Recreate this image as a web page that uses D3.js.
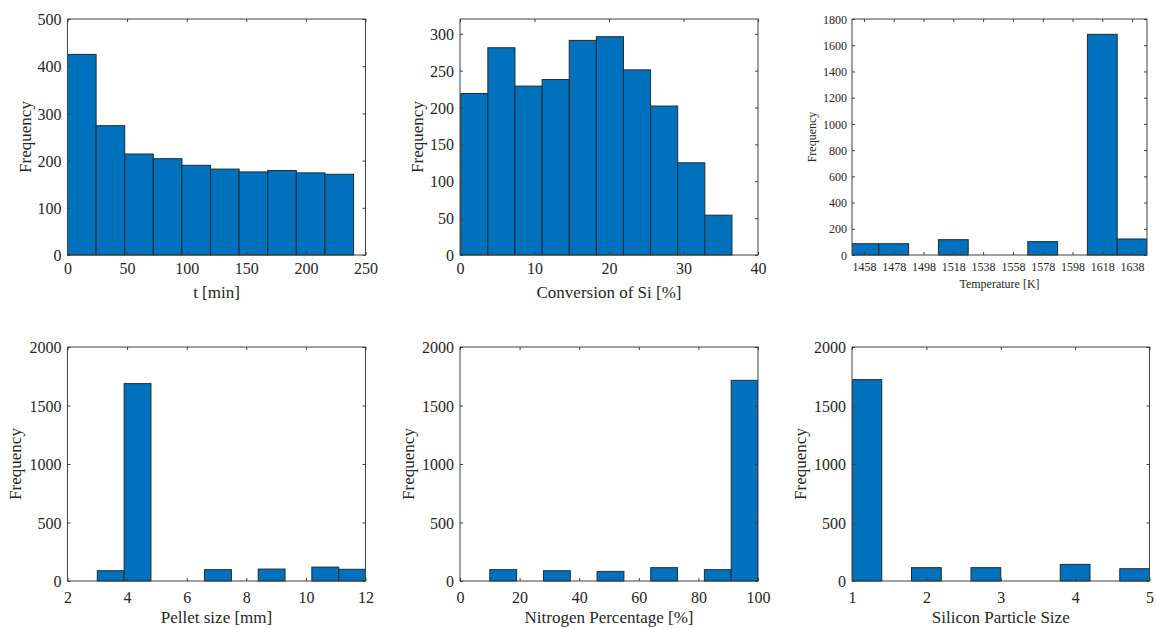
<!DOCTYPE html>
<html>
<head>
<meta charset="utf-8">
<script src="https://cdn.jsdelivr.net/npm/d3@7"></script>
<style>
  html, body { margin: 0; padding: 0; background: #fff; }
  svg { display: block; font-family: "Liberation Serif", "Times New Roman", serif; }
  svg text { font-family: "Liberation Serif", "Times New Roman", serif !important; fill: #262626; }
</style>
</head>
<body>
<svg id="chart" width="1156" height="628"></svg>
<script>
// ---------- DATA ----------
// Panel 1: reaction time
const timeBinStart = 0, timeBinWidth = 24;
const timeCounts = [425, 274, 214, 204, 190, 182, 176, 179, 174, 171];
const timeXTicks = [0, 50, 100, 150, 200, 250];
const timeYTicks = [0, 100, 200, 300, 400, 500];

// Panel 2: conversion of Si
const convBinStart = 0.1, convBinWidth = 3.64;
const convCounts = [219, 281, 229, 238, 291, 296, 251, 202, 125, 54];
const convXTicks = [0, 10, 20, 30, 40];
const convYTicks = [0, 50, 100, 150, 200, 250, 300];

// Panel 3: temperature (bin centres)
const tempCenters = [1458, 1478, 1498, 1518, 1538, 1558, 1578, 1598, 1618, 1638];
const tempBinWidth = 20;
const tempCounts = [86, 86, 0, 117, 0, 0, 102, 0, 1683, 122];
const tempYTicks = [0, 200, 400, 600, 800, 1000, 1200, 1400, 1600, 1800];

// Panel 4: pellet size
const pelletBinStart = 3, pelletBinWidth = 0.9;
const pelletCounts = [88, 1687, 0, 0, 97, 0, 102, 0, 119, 100];
const pelletXTicks = [2, 4, 6, 8, 10, 12];

// Panel 5: nitrogen percentage
const nitroBinStart = 10, nitroBinWidth = 9;
const nitroCounts = [97, 0, 88, 0, 82, 0, 114, 0, 97, 1715];
const nitroXTicks = [0, 20, 40, 60, 80, 100];

// Panel 6: silicon particle size
const siBinStart = 1, siBinWidth = 0.4;
const siCounts = [1721, 0, 114, 0, 114, 0, 0, 142, 0, 105];
const siXTicks = [1, 2, 3, 4, 5];

const bottomYTicks = [0, 500, 1000, 1500, 2000];

// ---------- DRAWING ----------
const FONT = '"Liberation Serif", "Times New Roman", serif';
const svg = d3.select("#chart");
const AX = "#404040";
const BAR = "#0072BD";
const EDGE = "#1f2a36";
let clipId = 0;

function edgesFromStart(start, width, n) {
  return d3.range(n).map(i => [start + i * width, start + (i + 1) * width]);
}
function edgesFromCenters(centers, width) {
  return centers.map(c => [c - width / 2, c + width / 2]);
}

function panel(o) {
  const g = svg.append("g");
  const x = d3.scaleLinear().domain(o.xDomain).range([o.left, o.right]);
  const y = d3.scaleLinear().domain(o.yDomain).range([o.bottom, o.top]);

  const id = "clip" + (clipId++);
  svg.append("clipPath").attr("id", id).append("rect")
    .attr("x", o.left).attr("y", o.top - 2)
    .attr("width", o.right - o.left).attr("height", o.bottom - o.top + 4);

  const bins = o.edges.map((e, i) => ({ x0: e[0], x1: e[1], v: o.counts[i] }));
  g.append("g").attr("clip-path", `url(#${id})`)
    .selectAll("rect").data(bins).join("rect")
    .attr("x", d => x(d.x0))
    .attr("width", d => x(d.x1) - x(d.x0))
    .attr("y", d => y(d.v))
    .attr("height", d => y(0) - y(d.v))
    .attr("fill", BAR)
    .attr("stroke", EDGE)
    .attr("stroke-width", 1);

  const ts = 3;
  const xb = g.append("g").attr("transform", `translate(0,${o.bottom})`)
    .call(d3.axisBottom(x).tickValues(o.xTicks).tickSizeInner(-ts).tickSizeOuter(0).tickFormat(d3.format("d")));
  xb.selectAll("text").attr("y", o.xTickDy).attr("dy", "0.35em");
  const xt = g.append("g").attr("transform", `translate(0,${o.top})`)
    .call(d3.axisTop(x).tickValues(o.xTicks).tickSizeInner(-ts).tickSizeOuter(0).tickFormat(""));
  const yl = g.append("g").attr("transform", `translate(${o.left},0)`)
    .call(d3.axisLeft(y).tickValues(o.yTicks).tickSizeInner(-ts).tickSizeOuter(0).tickFormat(d3.format("d")));
  yl.selectAll("text").attr("x", -o.yTickDx).attr("dy", "0.35em");
  const yr = g.append("g").attr("transform", `translate(${o.right},0)`)
    .call(d3.axisRight(y).tickValues(o.yTicks).tickSizeInner(-ts).tickSizeOuter(0).tickFormat(""));

  [xb, xt, yl, yr].forEach(a => {
    a.attr("font-family", FONT).attr("font-size", o.tickFont);
    a.select(".domain").remove();
    a.selectAll("line").attr("stroke", AX);
    a.selectAll("text").attr("fill", "#262626");
  });

  g.append("rect").attr("x", o.left).attr("y", o.top)
    .attr("width", o.right - o.left).attr("height", o.bottom - o.top)
    .attr("fill", "none").attr("stroke", AX).attr("stroke-width", 1);

  g.append("text").attr("x", (o.left + o.right) / 2).attr("y", o.xTitleY)
    .attr("text-anchor", "middle").attr("dy", "0.35em")
    .attr("font-family", FONT).attr("font-size", o.titleFont).text(o.xTitle);
  g.append("text")
    .attr("transform", `translate(${o.yTitleX},${(o.top + o.bottom) / 2}) rotate(-90)`)
    .attr("text-anchor", "middle").attr("dy", "0.35em")
    .attr("font-family", FONT).attr("font-size", o.titleFont).text("Frequency");
}

const topRow = { top: 19, bottom: 255 };
const botRow = { top: 347, bottom: 581 };

panel({ ...topRow, left: 67.5, right: 365.5, xDomain: [0, 250], yDomain: [0, 500],
  xTicks: timeXTicks, yTicks: timeYTicks,
  edges: edgesFromStart(timeBinStart, timeBinWidth, timeCounts.length), counts: timeCounts,
  tickFont: 16, titleFont: 17, xTickDy: 13, yTickDx: 6, xTitleY: 292, yTitleX: 25,
  xTitle: "t [min]" });

panel({ ...topRow, left: 460, right: 758, xDomain: [0, 40], yDomain: [0, 320],
  xTicks: convXTicks, yTicks: convYTicks,
  edges: edgesFromStart(convBinStart, convBinWidth, convCounts.length), counts: convCounts,
  tickFont: 16, titleFont: 17, xTickDy: 13, yTickDx: 6, xTitleY: 292, yTitleX: 417,
  xTitle: "Conversion of Si [%]" });

panel({ ...topRow, left: 852, right: 1147, xDomain: [1450, 1648], yDomain: [0, 1800],
  xTicks: tempCenters, yTicks: tempYTicks,
  edges: edgesFromCenters(tempCenters, tempBinWidth), counts: tempCounts,
  tickFont: 12, titleFont: 12, xTickDy: 12, yTickDx: 5, xTitleY: 284, yTitleX: 812,
  xTitle: "Temperature [K]" });

panel({ ...botRow, left: 67.5, right: 365.5, xDomain: [2, 12], yDomain: [0, 2000],
  xTicks: pelletXTicks, yTicks: bottomYTicks,
  edges: edgesFromStart(pelletBinStart, pelletBinWidth, pelletCounts.length), counts: pelletCounts,
  tickFont: 16, titleFont: 17, xTickDy: 16, yTickDx: 6, xTitleY: 617, yTitleX: 15,
  xTitle: "Pellet size [mm]" });

panel({ ...botRow, left: 460, right: 758, xDomain: [0, 100], yDomain: [0, 2000],
  xTicks: nitroXTicks, yTicks: bottomYTicks,
  edges: edgesFromStart(nitroBinStart, nitroBinWidth, nitroCounts.length), counts: nitroCounts,
  tickFont: 16, titleFont: 17, xTickDy: 16, yTickDx: 6, xTitleY: 617, yTitleX: 408,
  xTitle: "Nitrogen Percentage [%]" });

panel({ ...botRow, left: 852, right: 1149.5, xDomain: [1, 5], yDomain: [0, 2000],
  xTicks: siXTicks, yTicks: bottomYTicks,
  edges: edgesFromStart(siBinStart, siBinWidth, siCounts.length), counts: siCounts,
  tickFont: 16, titleFont: 17, xTickDy: 16, yTickDx: 6, xTitleY: 617, yTitleX: 800,
  xTitle: "Silicon Particle Size" });
</script>
</body>
</html>
